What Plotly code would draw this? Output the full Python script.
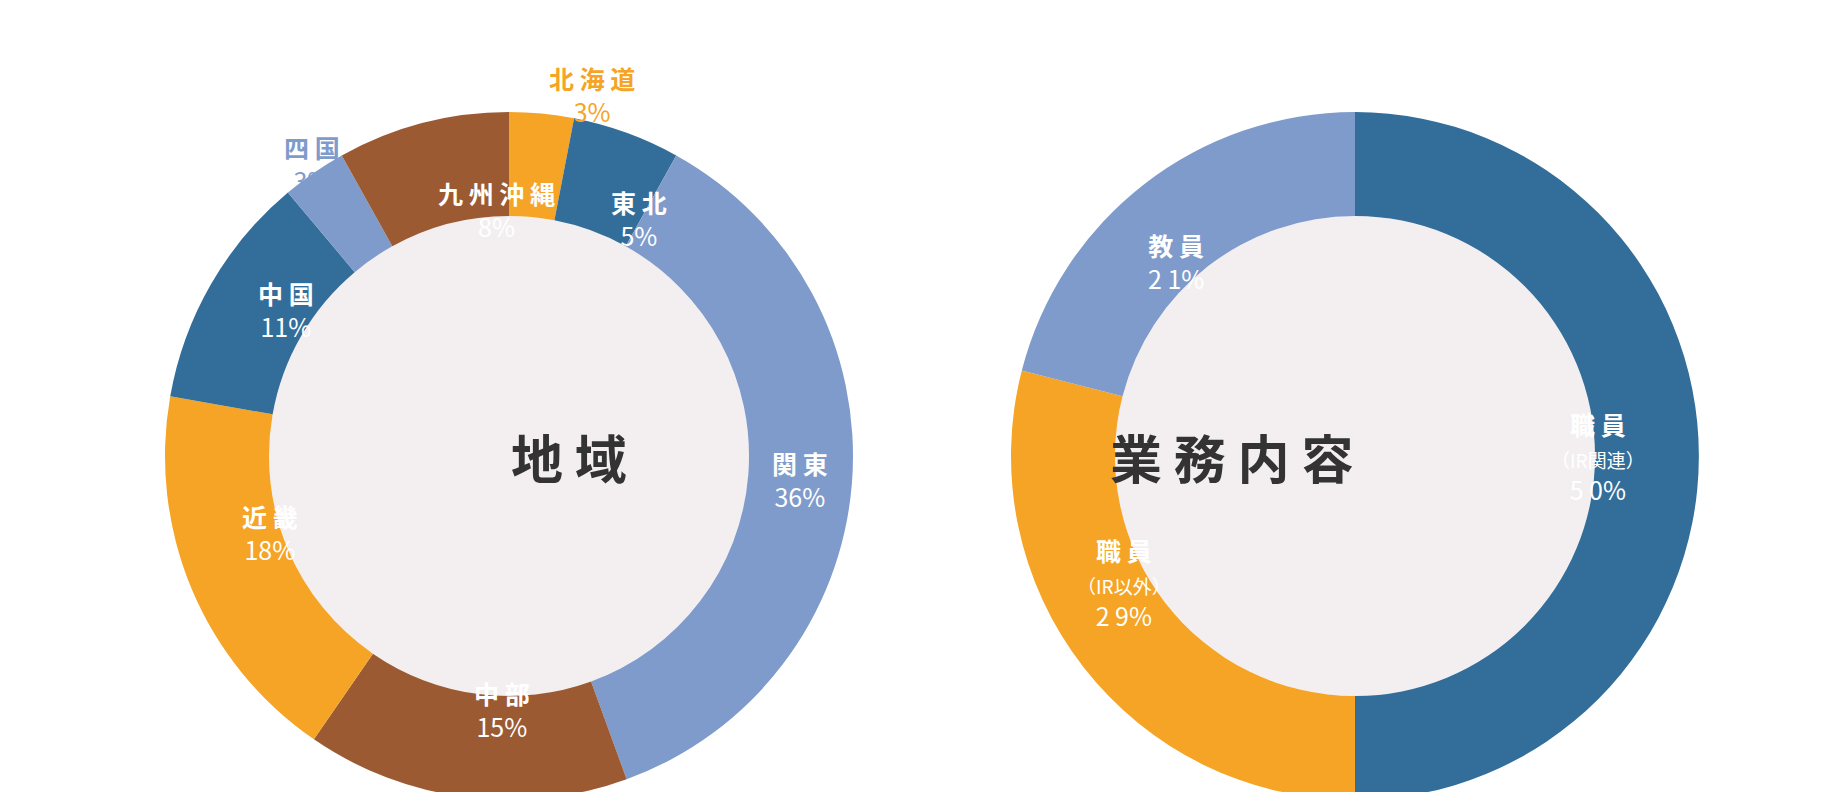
import math
import plotly.graph_objects as go

W, H = 1848, 792
region_labels = ["北海道", "東北", "関東", "中部", "近畿", "中国", "四国", "九州沖縄"]
region_values = [3, 5, 36, 15, 18, 11, 3, 8]
region_colors = ["#F5A425", "#336E9B", "#7F9BCB", "#9C5A33", "#F5A425", "#336E9B", "#7F9BCB", "#9C5A33"]
region_outside = [True, False, False, False, False, False, True, False]

job_labels = ["職員", "職員", "教員"]
job_sub = ["（IR関連）", "（IR以外）", ""]
job_values = [50, 29, 21]
job_colors = ["#336E9B", "#F5A425", "#7F9BCB"]

R_OUT, R_IN = 344, 240
centers = [(501, 448), (1347, 448)]
FONT = "Noto Sans CJK JP"

def cl(v):
    return min(1.0, max(0.0, v))

fig = go.Figure()
for (cx, cy), labels, values, colors in [(centers[0], region_labels, region_values, region_colors),
                                        (centers[1], job_labels, job_values, job_colors)]:
    fig.add_trace(go.Pie(labels=[f"{l}{i}" for i, l in enumerate(labels)], values=values,
                         marker=dict(colors=colors, line=dict(width=0)),
                         hole=R_IN / R_OUT, sort=False, direction="clockwise", rotation=0,
                         textinfo="none", hoverinfo="skip", showlegend=False,
                         domain=dict(x=[cl((cx - R_OUT) / W), cl((cx + R_OUT) / W)],
                                     y=[cl(1 - (cy + R_OUT) / H), cl(1 - (cy - R_OUT) / H)])))
    fig.add_shape(type="circle", xref="paper", yref="paper", layer="below",
                  x0=(cx - R_IN) / W, x1=(cx + R_IN) / W,
                  y0=1 - (cy + R_IN) / H, y1=1 - (cy - R_IN) / H,
                  fillcolor="#F3EFF1", line=dict(width=0))

def pos(cx, cy, values, i, r):
    tot = sum(values)
    mid = (sum(values[:i]) + values[i] / 2) / tot
    th = math.radians(90 - 360 * mid)
    return (cx + r * math.cos(th)) / W, 1 - (cy - r * math.sin(th)) / H

cx, cy = centers[0]
for i, (l, v) in enumerate(zip(region_labels, region_values)):
    out = region_outside[i]
    x, y = pos(cx, cy, region_values, i, 400 if out else (R_IN + R_OUT) / 2)
    col = region_colors[i] if out else "white"
    fig.add_annotation(x=x, y=y, xref="paper", yref="paper", showarrow=False,
                       text=f"<b>{' '.join(l)}</b><br>{v}%", font=dict(family=FONT, size=25, color=col))

cx, cy = centers[1]
for i, (l, s, v) in enumerate(zip(job_labels, job_sub, job_values)):
    x, y = pos(cx, cy, job_values, i, (R_IN + R_OUT) / 2)
    sub = f"<span style='font-size:19px'>{s}</span><br>" if s else ""
    fig.add_annotation(x=x, y=y, xref="paper", yref="paper", showarrow=False,
                       text=f"<b>{' '.join(l)}</b><br>{sub}{' '.join(str(v))}%",
                       font=dict(family=FONT, size=25, color="white"))

for (cx, cy), t in zip(centers, ["地 域", "業 務 内 容"]):
    fig.add_annotation(x=cx / W, y=1 - cy / H, xref="paper", yref="paper", showarrow=False,
                       text=f"<b>{t}</b>", font=dict(family=FONT, size=52, color="#333333"))

fig.update_layout(width=W, height=H, margin=dict(l=0, r=0, t=0, b=0),
                  paper_bgcolor="white", plot_bgcolor="white")
fig.write_html("out.html")
